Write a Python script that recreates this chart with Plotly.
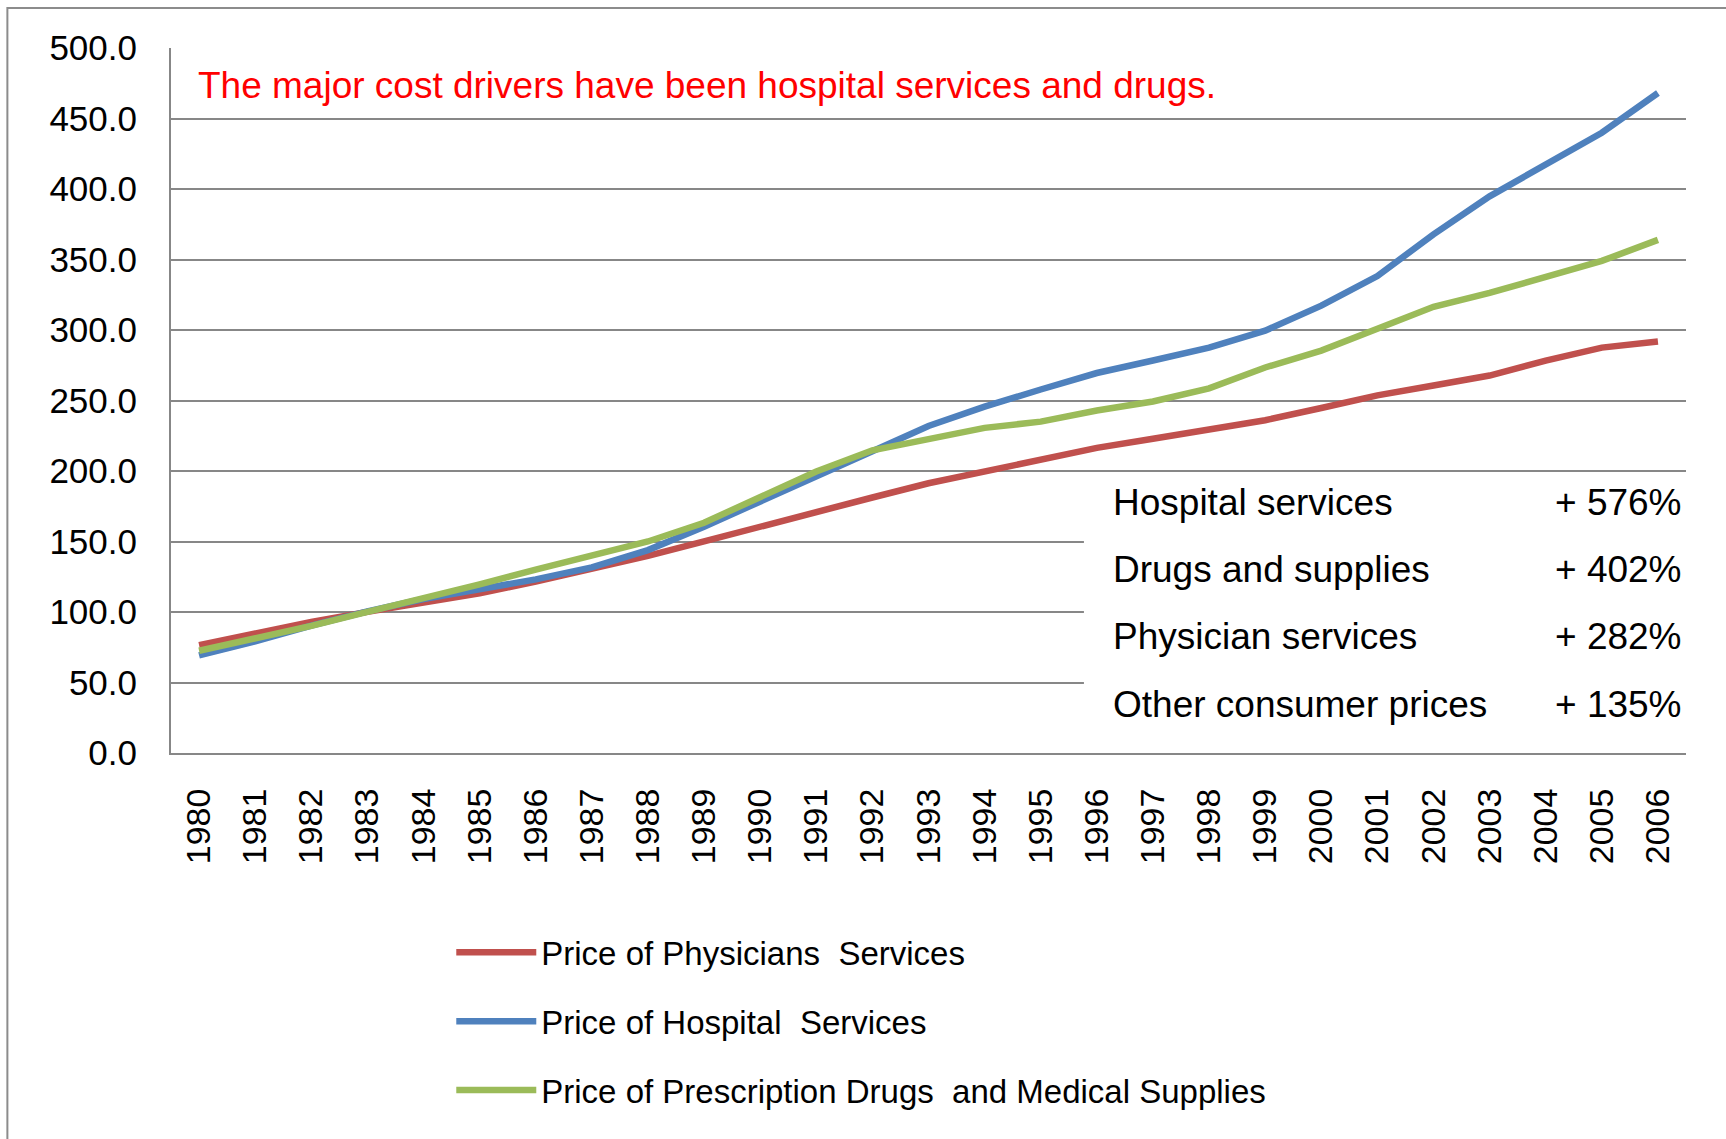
import plotly.graph_objects as go

# CPI components, 1982-84 = 100
years = [str(y) for y in range(1980, 2007)]

physicians = [76.5, 84.9, 92.9, 100.1, 107.0, 113.3, 121.5, 130.4, 139.8, 150.1,
              160.8, 170.5, 181.2, 191.3, 199.8, 208.8, 216.4, 222.9, 229.5, 236.0,
              244.7, 253.6, 260.6, 267.7, 278.3, 287.5, 291.9]
hospital = [69.2, 79.1, 90.3, 100.5, 109.2, 116.1, 123.1, 131.6, 143.9, 160.5,
            178.0, 196.1, 214.0, 231.9, 245.6, 257.8, 269.5, 278.4, 287.5, 299.5,
            317.3, 338.3, 367.8, 394.8, 417.9, 439.9, 468.1]
drugs = [72.5, 80.9, 90.2, 100.1, 109.7, 119.6, 130.1, 140.5, 150.0, 163.3,
         181.7, 199.7, 214.7, 223.0, 230.6, 235.0, 242.9, 249.3, 258.6, 273.4,
         285.4, 300.9, 316.5, 326.3, 337.1, 349.0, 363.9]

series_names = ['Price of Physicians  Services', 'Price of Hospital  Services',
                'Price of Prescription Drugs  and Medical Supplies']
series_colors = ['#C0504D', '#4F81BD', '#9BBB59']

box_labels = ['Hospital services', 'Drugs and supplies', 'Physician services', 'Other consumer prices']
box_pcts = ['+ 576%', '+ 402%', '+ 282%', '+ 135%']

FONT = 'Liberation Sans, Arial, sans-serif'
GRID = '#878787'

fig = go.Figure()

for name, vals, col in zip(series_names, [physicians, hospital, drugs], series_colors):
    fig.add_trace(go.Scatter(
        x=years, y=vals, mode='lines', name=name, legendgroup=name,
        line=dict(color=col, width=6.5)
    ))

# white box hiding the gridlines behind the summary text
fig.add_shape(type='rect', xref='paper', yref='paper', x0=0.6026, x1=1.0, y0=0.006, y1=0.38,
              fillcolor='white', line=dict(width=0), layer='above')

# outer chart frame
fig.add_shape(type='rect', xref='paper', yref='paper', x0=-0.108, x1=1.1, y0=-0.6, y1=1.0567,
              line=dict(color='#8C8C8C', width=2), fillcolor='rgba(0,0,0,0)')

fig.add_annotation(text='The major cost drivers have been hospital services and drugs.',
                   xref='paper', yref='paper', x=0.0165, y=0.9475, xanchor='left', yanchor='middle',
                   showarrow=False, font=dict(family=FONT, size=37, color='#FF0000'))

row_y = [0.3547, 0.2597, 0.1647, 0.0687]
for lab, pct, yy in zip(box_labels, box_pcts, row_y):
    fig.add_annotation(text=lab, xref='paper', yref='paper', x=0.6202, y=yy,
                       xanchor='left', yanchor='middle', showarrow=False,
                       font=dict(family=FONT, size=37, color='black'))
    fig.add_annotation(text=pct, xref='paper', yref='paper', x=0.9989, y=yy,
                       xanchor='right', yanchor='middle', showarrow=False,
                       font=dict(family=FONT, size=37, color='black'))

fig.update_layout(
    width=1726, height=1139,
    margin=dict(l=171, r=40, t=48, b=386),
    paper_bgcolor='white', plot_bgcolor='white',
    font=dict(family=FONT, color='black'),
    showlegend=True,
    legend=dict(x=0.185, y=-0.243, xanchor='left', yanchor='top', orientation='v',
                font=dict(size=33, color='black'), tracegroupgap=23,
                bgcolor='rgba(0,0,0,0)', itemwidth=80),
    xaxis=dict(type='category', range=[-0.5, 26.5], tickangle=-90,
               tickfont=dict(size=34, color='black'), showgrid=False,
               showline=True, linecolor=GRID, linewidth=2, ticks='',
               ticklabelstandoff=20),
    yaxis=dict(range=[0, 500], dtick=50, tickformat='.1f',
               tickfont=dict(size=35, color='black'), showgrid=True,
               gridcolor=GRID, gridwidth=2, zeroline=False,
               showline=True, linecolor=GRID, linewidth=2, ticks='',
               ticklabelstandoff=25),
)

fig.write_html('out.html', config={'displayModeBar': False},
               post_script="document.body.style.margin='0';")
